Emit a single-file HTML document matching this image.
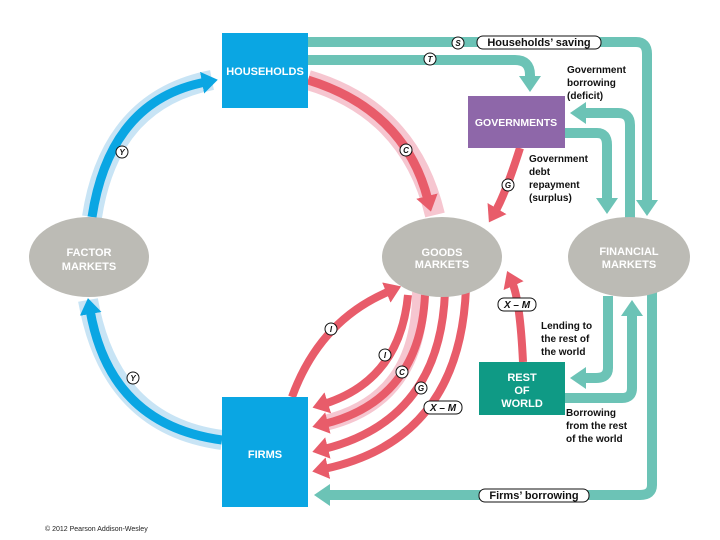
<!DOCTYPE html>
<html><head><meta charset="utf-8"><style>
body{margin:0;background:#fff;width:720px;height:540px;overflow:hidden}
svg{display:block}
text{font-family:"Liberation Sans",sans-serif;font-weight:bold}
</style></head><body>
<svg width="720" height="540" viewBox="0 0 720 540">
<defs>
<marker id="ab" markerUnits="userSpaceOnUse" markerWidth="22" markerHeight="22" refX="4" refY="11" orient="auto"><path d="M0,0 L16,11 L0,22 Z" fill="#0aa6e3"/></marker>
<marker id="ar" markerUnits="userSpaceOnUse" markerWidth="22" markerHeight="22" refX="4" refY="11" orient="auto"><path d="M0,0 L16,11 L0,22 Z" fill="#e85c6a"/></marker>
<marker id="at" markerUnits="userSpaceOnUse" markerWidth="22" markerHeight="22" refX="4" refY="11" orient="auto"><path d="M0,0 L16,11 L0,22 Z" fill="#6cc3b6"/></marker>
</defs>
<g fill="none" stroke-linecap="butt">
<!-- blue -->
<path d="M92,217 Q110,100 212,80" stroke="#c8e4f5" stroke-width="20"/>
<path d="M88,300 Q110,425 222,440" stroke="#c8e4f5" stroke-width="20"/>
<path d="M92,217 Q110,100 206,82" stroke="#0aa6e3" stroke-width="9" marker-end="url(#ab)"/>
<path d="M222,440 Q110,425 90,310" stroke="#0aa6e3" stroke-width="9" marker-end="url(#ab)"/>
<!-- red -->
<path d="M308,80 Q410,110 435,215" stroke="#f6c6d0" stroke-width="20"/>
<path d="M308,80 Q405,110 428,200" stroke="#e85c6a" stroke-width="9" marker-end="url(#ar)"/>
<path d="M520,148 Q505,195 495,212" stroke="#e85c6a" stroke-width="8" marker-end="url(#ar)"/>
<path d="M523,362 Q520,300 512,282" stroke="#e85c6a" stroke-width="8" marker-end="url(#ar)"/>
<path d="M292,397 Q320,320 390,291" stroke="#e85c6a" stroke-width="8" marker-end="url(#ar)"/>
<path d="M420,292 Q420,400 325,423" stroke="#f6c6d0" stroke-width="16"/>
<path d="M408,295 Q400,380 324,404" stroke="#e85c6a" stroke-width="8" marker-end="url(#ar)"/>
<path d="M425,295 Q420,400 324,424" stroke="#e85c6a" stroke-width="8" marker-end="url(#ar)"/>
<path d="M445,292 Q440,420 324,449" stroke="#e85c6a" stroke-width="8" marker-end="url(#ar)"/>
<path d="M466,288 Q460,440 324,469" stroke="#e85c6a" stroke-width="8" marker-end="url(#ar)"/>
<!-- teal -->
<path d="M308,42 H636 Q647,42 647,54 V204" stroke="#6cc3b6" stroke-width="10" marker-end="url(#at)"/>
<path d="M308,60 H515 Q530,60 530,75 V80" stroke="#6cc3b6" stroke-width="10" marker-end="url(#at)"/>
<path d="M565,133 H597 Q607,133 607,145 V202" stroke="#6cc3b6" stroke-width="10" marker-end="url(#at)"/>
<path d="M630,218 V125 Q630,113 618,113 H582" stroke="#6cc3b6" stroke-width="10" marker-end="url(#at)"/>
<path d="M608,296 V368 Q608,378 596,378 H582" stroke="#6cc3b6" stroke-width="10" marker-end="url(#at)"/>
<path d="M565,398 H622 Q632,398 632,388 V312" stroke="#6cc3b6" stroke-width="10" marker-end="url(#at)"/>
<path d="M652,290 V485 Q652,495 640,495 H326" stroke="#6cc3b6" stroke-width="10" marker-end="url(#at)"/>
</g>
<!-- nodes -->
<rect x="222" y="33" width="86" height="75" fill="#0aa6e3"/>
<text x="265" y="75" fill="#fff" font-size="11" text-anchor="middle">HOUSEHOLDS</text>
<rect x="222" y="397" width="86" height="110" fill="#0aa6e3"/>
<text x="265" y="458" fill="#fff" font-size="11" text-anchor="middle">FIRMS</text>
<rect x="468" y="96" width="97" height="52" fill="#8e67a9"/>
<text x="516" y="126" fill="#fff" font-size="10.5" text-anchor="middle">GOVERNMENTS</text>
<rect x="479" y="362" width="86" height="53" fill="#0f9a85"/>
<text x="522" y="381" fill="#fff" font-size="11" text-anchor="middle">REST</text>
<text x="522" y="394" fill="#fff" font-size="11" text-anchor="middle">OF</text>
<text x="522" y="407" fill="#fff" font-size="11" text-anchor="middle">WORLD</text>
<ellipse cx="89" cy="257" rx="60" ry="40" fill="#bcbbb5"/>
<text x="89" y="256" fill="#fff" font-size="11" text-anchor="middle">FACTOR</text>
<text x="89" y="270" fill="#fff" font-size="11" text-anchor="middle">MARKETS</text>
<ellipse cx="442" cy="257" rx="60" ry="40" fill="#bcbbb5"/>
<text x="442" y="256" fill="#fff" font-size="11" text-anchor="middle">GOODS</text>
<text x="442" y="268" fill="#fff" font-size="11" text-anchor="middle">MARKETS</text>
<ellipse cx="629" cy="257" rx="61" ry="40" fill="#bcbbb5"/>
<text x="629" y="255" fill="#fff" font-size="11" text-anchor="middle">FINANCIAL</text>
<text x="629" y="268" fill="#fff" font-size="11" text-anchor="middle">MARKETS</text>
<!-- labels -->
<g font-size="10" fill="#111">
<rect x="477" y="36" width="124" height="13" rx="6" fill="#fff" stroke="#111"/>
<text x="539" y="46" text-anchor="middle" font-size="11">Households’ saving</text>
<rect x="479" y="489" width="110" height="13" rx="6" fill="#fff" stroke="#111"/>
<text x="534" y="499" text-anchor="middle" font-size="11">Firms’ borrowing</text>
<text x="567" y="73">Government</text><text x="567" y="86">borrowing</text><text x="567" y="99">(deficit)</text>
<text x="529" y="162">Government</text><text x="529" y="175">debt</text><text x="529" y="188">repayment</text><text x="529" y="201">(surplus)</text>
<text x="541" y="329">Lending to</text><text x="541" y="342">the rest of</text><text x="541" y="355">the world</text>
<text x="566" y="416">Borrowing</text><text x="566" y="429">from the rest</text><text x="566" y="442">of the world</text>
<rect x="498" y="298" width="38" height="13" rx="6" fill="#fff" stroke="#111"/><text x="517" y="308" text-anchor="middle" font-style="italic">X – M</text>
<rect x="424" y="401" width="38" height="13" rx="6" fill="#fff" stroke="#111"/><text x="443" y="411" text-anchor="middle" font-style="italic">X – M</text>
</g>
<g font-size="8" fill="#111" font-style="italic" text-anchor="middle">
<circle cx="458" cy="43" r="6" fill="#fff" stroke="#111"/><text x="458" y="46">S</text>
<circle cx="430" cy="59" r="6" fill="#fff" stroke="#111"/><text x="430" y="62">T</text>
<circle cx="122" cy="152" r="6" fill="#fff" stroke="#111"/><text x="122" y="155">Y</text>
<circle cx="133" cy="378" r="6" fill="#fff" stroke="#111"/><text x="133" y="381">Y</text>
<circle cx="406" cy="150" r="6" fill="#fff" stroke="#111"/><text x="406" y="153">C</text>
<circle cx="508" cy="185" r="6" fill="#fff" stroke="#111"/><text x="508" y="188">G</text>
<circle cx="331" cy="329" r="6" fill="#fff" stroke="#111"/><text x="331" y="332">I</text>
<circle cx="385" cy="355" r="6" fill="#fff" stroke="#111"/><text x="385" y="358">I</text>
<circle cx="402" cy="372" r="6" fill="#fff" stroke="#111"/><text x="402" y="375">C</text>
<circle cx="421" cy="388" r="6" fill="#fff" stroke="#111"/><text x="421" y="391">G</text>
</g>
<text x="45" y="531" font-size="7" style="font-weight:normal" fill="#222">© 2012 Pearson Addison-Wesley</text>
</svg>
</body></html>
